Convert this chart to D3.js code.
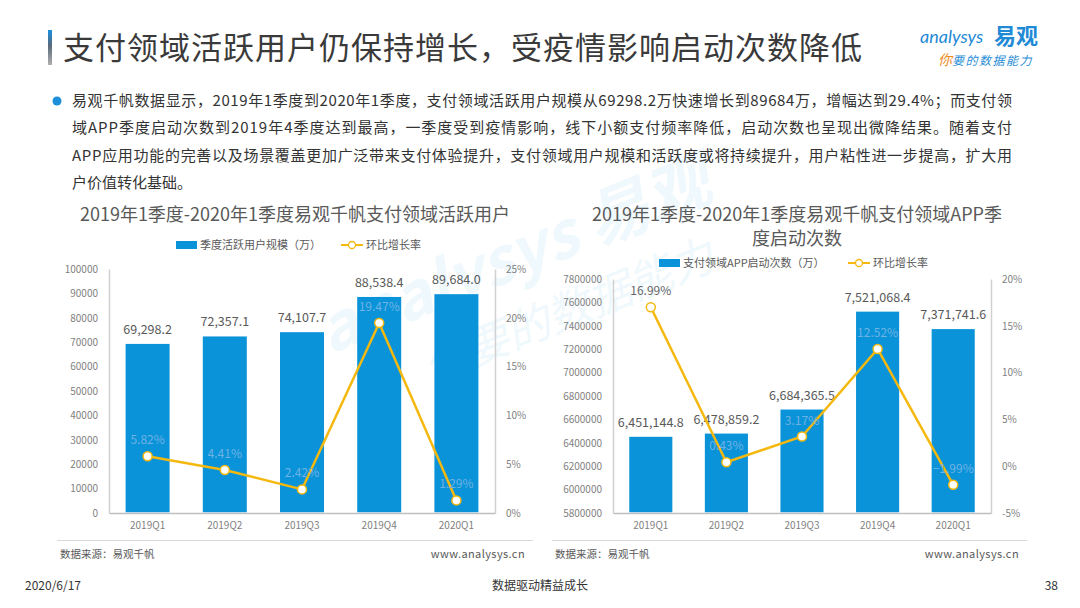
<!DOCTYPE html>
<html>
<head>
<meta charset="utf-8">
<script src="https://cdn.jsdelivr.net/npm/d3@7"></script>
<style>
  html, body { margin: 0; padding: 0; background: #fff; }
  svg { display: block; font-family: "Noto Sans CJK SC", "Noto Sans", sans-serif; }
</style>
</head>
<body>
<div id="page"></div>
<script>
// data
var quarters = ["2019Q1", "2019Q2", "2019Q3", "2019Q4", "2020Q1"];
var activeUsers = [69298.2, 72357.1, 74107.7, 88538.4, 89684.0];
var activeGrowth = [5.82, 4.41, 2.42, 19.47, 1.29];
var appLaunches = [6451144.8, 6478859.2, 6684365.5, 7521068.4, 7371741.6];
var launchGrowth = [16.99, 0.43, 3.17, 12.52, -1.99];

var userTicks = [0, 10000, 20000, 30000, 40000, 50000, 60000, 70000, 80000, 90000, 100000];
var userPctTicks = [0, 5, 10, 15, 20, 25];
var launchTicks = [5800000, 6000000, 6200000, 6400000, 6600000, 6800000, 7000000, 7200000, 7400000, 7600000, 7800000];
var launchPctTicks = [-5, 0, 5, 10, 15, 20];

var pageTitle = "支付领域活跃用户仍保持增长，受疫情影响启动次数降低";
var bodyLines = [
  "易观千帆数据显示，2019年1季度到2020年1季度，支付领域活跃用户规模从69298.2万快速增长到89684万，增幅达到29.4%；而支付领",
  "域APP季度启动次数到2019年4季度达到最高，一季度受到疫情影响，线下小额支付频率降低，启动次数也呈现出微降结果。随着支付",
  "APP应用功能的完善以及场景覆盖更加广泛带来支付体验提升，支付领域用户规模和活跃度或将持续提升，用户粘性进一步提高，扩大用",
  "户价值转化基础。"
];

var BLUE = "#0a93d9";
var GOLD = "#f4b80f";

var svg = d3.select("#page").append("svg")
  .attr("width", 1080)
  .attr("height", 608);

// watermark
var wm = svg.append("g").attr("transform", "translate(530,295) rotate(-22)").attr("opacity", 0.06);
wm.append("text").attr("x", 0).attr("y", -20).attr("text-anchor", "middle")
  .attr("font-size", 64).attr("font-weight", "bold").attr("font-style", "italic").attr("fill", BLUE)
  .text("analysys 易观");
wm.append("text").attr("x", 30).attr("y", 45).attr("text-anchor", "middle")
  .attr("font-size", 44).attr("font-style", "italic").attr("fill", BLUE)
  .text("你要的数据能力");

// header
var grad = svg.append("defs").append("linearGradient")
  .attr("id", "barGrad").attr("x1", 0).attr("y1", 0).attr("x2", 0).attr("y2", 1);
grad.append("stop").attr("offset", "0%").attr("stop-color", "#1a8ee0");
grad.append("stop").attr("offset", "45%").attr("stop-color", "#5a6a7a");
grad.append("stop").attr("offset", "100%").attr("stop-color", "#b0b0b0");
svg.append("rect").attr("x", 48).attr("y", 30).attr("width", 4).attr("height", 35).attr("fill", "url(#barGrad)");

svg.append("text")
  .attr("x", 63).attr("y", 59)
  .attr("font-size", 31)
  .attr("fill", "#3a3a3a")
  .attr("textLength", 799).attr("lengthAdjust", "spacing")
  .text(pageTitle);

// logo
var logo = svg.append("g");
logo.append("text").attr("x", 920).attr("y", 43).attr("font-size", 18).attr("font-style", "italic")
  .attr("fill", "#1f8ad6").attr("font-family", "Lato, sans-serif").text("analysys");
logo.append("text").attr("x", 994).attr("y", 44).attr("font-size", 22).attr("font-weight", "bold")
  .attr("fill", "#1f8ad6").text("易观");
var tag = logo.append("text").attr("x", 938).attr("y", 65).attr("font-size", 12).attr("font-style", "italic");
tag.append("tspan").attr("fill", "#f08c1e").attr("font-size", 14).text("你");
tag.append("tspan").attr("fill", "#2a8ed6").attr("letter-spacing", 1.5).text("要的数据能力");

// bullet text
svg.append("circle").attr("cx", 57).attr("cy", 101).attr("r", 4.5).attr("fill", "#1d8fdb");
svg.selectAll("text.body")
  .data(bodyLines)
  .join("text")
  .attr("class", "body")
  .attr("x", 72)
  .attr("y", function (d, i) { return 106 + i * 27.4; })
  .attr("font-size", 15)
  .attr("fill", "#333")
  .each(function (d, i) {
    if (i < bodyLines.length - 1) d3.select(this).attr("textLength", 940).attr("lengthAdjust", "spacing");
  })
  .text(function (d) { return d; });

// chart builder
function drawChart(cfg) {
  var g = svg.append("g");

  // title
  g.selectAll("text.ctitle")
    .data(cfg.title)
    .join("text")
    .attr("class", "ctitle")
    .attr("x", cfg.titleX)
    .attr("y", function (d, i) { return 221 + i * 24; })
    .attr("text-anchor", "middle")
    .attr("font-size", 18)
    .attr("fill", "#595959")
    .text(function (d) { return d; });

  // legend
  var lg = g.append("g").attr("transform", "translate(0," + cfg.legendY + ")");
  lg.append("rect").attr("x", cfg.legendX).attr("y", -4).attr("width", 21).attr("height", 8).attr("fill", BLUE);
  lg.append("text").attr("x", cfg.legendX + 24).attr("y", 4).attr("font-size", 11).attr("fill", "#595959").text(cfg.barName);
  lg.append("line").attr("x1", cfg.legendX2).attr("x2", cfg.legendX2 + 22).attr("y1", 0).attr("y2", 0)
    .attr("stroke", GOLD).attr("stroke-width", 2);
  lg.append("circle").attr("cx", cfg.legendX2 + 11).attr("cy", 0).attr("r", 3.5)
    .attr("fill", "#fff").attr("stroke", GOLD).attr("stroke-width", 1.3);
  lg.append("text").attr("x", cfg.legendX2 + 25).attr("y", 4).attr("font-size", 11).attr("fill", "#595959").text("环比增长率");

  var x = d3.scaleBand().domain(quarters).range([cfg.left, cfg.right]).paddingInner(0.43).paddingOuter(0.215);
  var y = d3.scaleLinear().domain(d3.extent(cfg.ticks)).range([cfg.bottom, cfg.top]);
  var y2 = d3.scaleLinear().domain(d3.extent(cfg.pctTicks)).range([cfg.bottom, cfg.top]);

  // axes
  var yAxis = g.append("g").attr("transform", "translate(" + cfg.left + ",0)")
    .call(d3.axisLeft(y).tickValues(cfg.ticks).tickSize(0).tickPadding(11).tickFormat(d3.format("d")));
  var y2Axis = g.append("g").attr("transform", "translate(" + cfg.right + ",0)")
    .call(d3.axisRight(y2).tickValues(cfg.pctTicks).tickSize(0).tickPadding(11).tickFormat(function (d) { return d + "%"; }));
  var xAxis = g.append("g").attr("transform", "translate(0," + cfg.bottom + ")")
    .call(d3.axisBottom(x).tickSize(0).tickPadding(9));
  [yAxis, y2Axis, xAxis].forEach(function (a) {
    a.select(".domain").attr("stroke", "#bfbfbf").attr("stroke-width", 1.5);
    a.selectAll("text").attr("fill", "#7f7f7f").attr("font-size", 10)
      .attr("font-family", "'Noto Sans CJK SC', sans-serif");
  });
  yAxis.select(".domain").attr("stroke", "#d0d0d0");
  y2Axis.select(".domain").attr("stroke", "#d0d0d0");

  // bars
  g.append("g").selectAll("rect")
    .data(cfg.bars)
    .join("rect")
    .attr("x", function (d, i) { return x(quarters[i]); })
    .attr("y", function (d) { return y(d); })
    .attr("width", x.bandwidth())
    .attr("height", function (d) { return cfg.bottom - y(d) - 0.75; })
    .attr("fill", BLUE);

  g.append("g").selectAll("text")
    .data(cfg.bars)
    .join("text")
    .attr("x", function (d, i) { return x(quarters[i]) + x.bandwidth() / 2; })
    .attr("y", function (d) { return y(d) - 10; })
    .attr("text-anchor", "middle")
    .attr("font-size", 12.5)
    .attr("fill", "#595959")
    .text(function (d) { return d3.format(",.1f")(d); });

  // growth line
  var cx = function (d, i) { return x(quarters[i]) + x.bandwidth() / 2; };
  var line = d3.line().x(cx).y(function (d) { return y2(d); });
  g.append("path")
    .attr("d", line(cfg.pct))
    .attr("fill", "none")
    .attr("stroke", GOLD)
    .attr("stroke-width", 2.5);
  g.append("g").selectAll("circle")
    .data(cfg.pct)
    .join("circle")
    .attr("cx", cx)
    .attr("cy", function (d) { return y2(d); })
    .attr("r", 4.5)
    .attr("fill", "#fff")
    .attr("stroke", GOLD)
    .attr("stroke-width", 1.5);

  g.append("g").selectAll("text")
    .data(cfg.pct)
    .join("text")
    .attr("x", cx)
    .attr("y", function (d) { return y2(d) - 12; })
    .attr("text-anchor", "middle")
    .attr("font-size", 12)
    .attr("fill", function (d, i) {
      // labels sitting on a bar show pale
      return (y2(d) - 12 > y(cfg.bars[i])) ? "#6eb2e3" : "#666";
    })
    .text(function (d) { return d3.format(".2f")(d) + "%"; });

  // source line
  g.append("line").attr("x1", cfg.sepX1).attr("x2", cfg.sepX2).attr("y1", 540.5).attr("y2", 540.5)
    .attr("stroke", "#d9d9d9").attr("stroke-width", 1);
  g.append("text").attr("x", cfg.sepX1 + 3).attr("y", 558).attr("font-size", 10.5).attr("fill", "#595959").text("数据来源：易观千帆");
  g.append("text").attr("x", cfg.sepX2 - 8).attr("y", 558).attr("text-anchor", "end").attr("font-size", 11)
    .attr("fill", "#595959").attr("letter-spacing", 0.4).text("www.analysys.cn");
}

drawChart({
  title: ["2019年1季度-2020年1季度易观千帆支付领域活跃用户"],
  titleX: 295,
  legendY: 245, legendX: 176, legendX2: 341,
  barName: "季度活跃用户规模（万）",
  left: 109, right: 495, top: 269, bottom: 513,
  ticks: userTicks, pctTicks: userPctTicks,
  bars: activeUsers, pct: activeGrowth,
  sepX1: 57, sepX2: 533
});

drawChart({
  title: ["2019年1季度-2020年1季度易观千帆支付领域APP季", "度启动次数"],
  titleX: 797,
  legendY: 263, legendX: 659, legendX2: 848,
  barName: "支付领域APP启动次数（万）",
  left: 613, right: 991, top: 279, bottom: 513,
  ticks: launchTicks, pctTicks: launchPctTicks,
  bars: appLaunches, pct: launchGrowth,
  sepX1: 552, sepX2: 1027
});

// page footer
svg.append("text").attr("x", 25).attr("y", 590).attr("font-size", 12).attr("fill", "#333").text("2020/6/17");
svg.append("text").attr("x", 540).attr("y", 590).attr("text-anchor", "middle").attr("font-size", 12).attr("fill", "#333").text("数据驱动精益成长");
svg.append("text").attr("x", 1058).attr("y", 590).attr("text-anchor", "end").attr("font-size", 12).attr("fill", "#333").text("38");
</script>
</body>
</html>
